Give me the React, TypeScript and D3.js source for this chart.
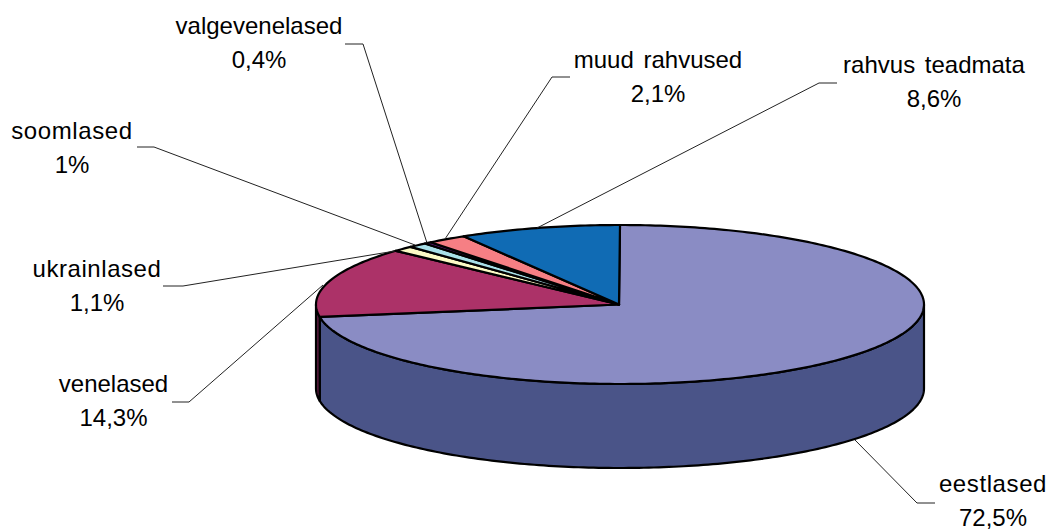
import React from "react";
import * as d3 from "d3";

const categories = ["eestlased", "venelased", "ukrainlased", "soomlased", "valgevenelased", "muud rahvused", "rahvus teadmata"];
const values = [72.5, 14.3, 1.1, 1, 0.4, 2.1, 8.6];
const valueLabels = ["72,5%", "14,3%", "1,1%", "1%", "0,4%", "2,1%", "8,6%"];
const topColors = ["#8a8cc4", "#ac3268", "#fdfbc6", "#a8e0e8", "#5f1a78", "#f67f84", "#106bb4"];
const sideColors = ["#4a5488", "#571a3c", "#7f7d63", "#547074", "#300d3c", "#7b4042", "#08365a"];
const labelX = [993, 113.5, 97, 72, 259, 658, 934];
const labelY = [492, 392, 277, 139, 34, 68, 73];
const labelSpacing = [0.6, 0, 0.55, 0.6, 0, 0, 0];
const leaders: [number, number][][] = [
  [[935, 503], [917, 503], [855, 440]],
  [[172, 402], [189, 402], [323, 285]],
  [[163, 286], [183, 286], [395, 251]],
  [[137, 147], [154, 147], [415, 245]],
  [[345, 44], [363, 44], [427, 243]],
  [[570, 77], [552, 77], [445, 239]],
  [[837, 83], [819, 83], [537, 228]],
];

const cx = 620, cy = 304.5, rx = 304, ry = 79.5, depth = 84;
const W = 1051, H = 529;

const pie = d3.pie<number>().sort(null).startAngle(0).endAngle(2 * Math.PI);
const arcs = pie(values);

const px = (a: number) => cx + rx * Math.sin(a);
const py = (a: number) => cy - ry * Math.cos(a);
const toPath = d3.line<[number, number]>();

function arcPoints(a0: number, a1: number, dy = 0): [number, number][] {
  const n = Math.max(2, Math.ceil(Math.abs(a1 - a0) * 60));
  return d3.range(n + 1).map((i) => {
    const a = a0 + ((a1 - a0) * i) / n;
    return [px(a), py(a) + dy] as [number, number];
  });
}

export default function App() {
  const lo = Math.PI / 2, hi = (3 * Math.PI) / 2;
  return (
    <svg width={W} height={H} style={{ position: "absolute", left: 0, top: 0, background: "#fff" }}>
      {arcs.map((d, i) => {
        const a0 = Math.max(d.startAngle, lo), a1 = Math.min(d.endAngle, hi);
        if (a1 <= a0) return null;
        const pts = [...arcPoints(a0, a1), ...arcPoints(a1, a0, depth)];
        return <path key={i} d={toPath(pts) + "Z"} fill={sideColors[i]} stroke="#000" strokeWidth={2.2} strokeLinejoin="round" />;
      })}
      {arcs.map((d, i) => {
        const pts: [number, number][] = [[cx - 1, cy], ...arcPoints(d.startAngle, d.endAngle)];
        return <path key={i} d={toPath(pts) + "Z"} fill={topColors[i]} stroke="#000" strokeWidth={2.2} strokeLinejoin="round" />;
      })}
      {leaders.map((l, i) => (
        <path key={i} d={toPath(l) ?? ""} fill="none" stroke="#222" strokeWidth={1} />
      ))}
      {categories.map((c, i) => (
        <text key={c} x={labelX[i]} y={labelY[i]} textAnchor="middle" fontFamily="Liberation Sans" fontSize={24} wordSpacing={3} fill="#000">
          <tspan x={labelX[i]} letterSpacing={labelSpacing[i]}>{c}</tspan>
          <tspan x={labelX[i]} dy={33.5}>{valueLabels[i]}</tspan>
        </text>
      ))}
    </svg>
  );
}
